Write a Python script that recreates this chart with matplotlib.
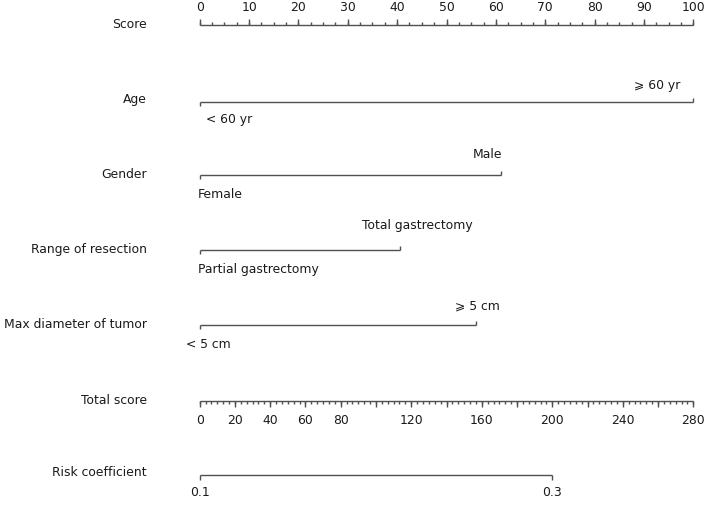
import numpy as np
import matplotlib
matplotlib.use("Agg")
import matplotlib.pyplot as plt

# ---- data ----
row_labels = ["Score", "Age", "Gender", "Range of resection",
              "Max diameter of tumor", "Total score", "Risk coefficient"]
score_major = [0, 10, 20, 30, 40, 50, 60, 70, 80, 90, 100]
score_minor_step = 2.5

age_levels = ["< 60 yr", "\u2a7e 60 yr"]
age_points = [0, 100]
gender_levels = ["Female", "Male"]
gender_points = [0, 61]
resection_levels = ["Partial gastrectomy", "Total gastrectomy"]
resection_points = [0, 40.5]
tumor_levels = ["< 5 cm", "\u2a7e 5 cm"]
tumor_points = [0, 56]

total_max = 280
total_labels = [0, 20, 40, 60, 80, 120, 160, 200, 240, 280]
total_major_step = 20
total_minor_step = 20 / 6

risk_values = [0.1, 0.3]
risk_total_points = [0, 200]

# ---- layout / style ----
W, H = 708, 505
fig = plt.figure(figsize=(W / 100, H / 100), dpi=100)
ax = fig.add_axes([0, 0, 1, 1])
px0, pxs = 199.7, 4.936          # pixel of score 0, px per score unit
ax.set_xlim(-px0 / pxs, (W - px0) / pxs)
ax.set_ylim(H, 0)
ax.axis("off")

LC = "#505050"
TC = "#1a1a1a"
FS = 8.9
LW = 1.0
fam = ["DejaVu Sans"]

row_y = [25, 101.5, 174.5, 249.5, 325, 400.5, 475]
label_y = [25, 100, 175, 249, 324, 400, 473]

for lab, y in zip(row_labels, label_y):
    ax.text(-(px0 - 147) / pxs, y, lab, ha="right", va="center",
            fontsize=FS, color=TC, family=fam)

# Score axis (ticks upward)
y = row_y[0]
ax.plot([0, 100], [y, y], color=LC, lw=LW, solid_capstyle="butt")
minor = np.arange(0, 100 + 1e-9, score_minor_step)
ax.vlines(minor, y - 3, y, color=LC, lw=LW)
ax.vlines(score_major, y - 6.5, y, color=LC, lw=LW)
for v in score_major:
    ax.text(v, 7.5, f"{v}", ha="center", va="center", fontsize=FS,
            color=TC, family=fam)

# Variable rows
variables = [
    (age_levels, age_points, row_y[1], [(92.6, 85), (6.0, 120)]),
    (gender_levels, gender_points, row_y[2], [(58.3, 155), (4.2, 195)]),
    (resection_levels, resection_points, row_y[3], [(44.1, 226), (11.8, 270)]),
    (tumor_levels, tumor_points, row_y[4], [(56.2, 306), (1.8, 344)]),
]
for levels, pts, y, pos in variables:
    ax.plot([pts[0], pts[1]], [y, y], color=LC, lw=LW, solid_capstyle="butt")
    ax.vlines([pts[0]], y, y + 4, color=LC, lw=LW)
    ax.vlines([pts[1]], y - 4, y, color=LC, lw=LW)
    (hx, hy), (lx, ly) = pos
    ax.text(hx, hy, levels[1], ha="center", va="center", fontsize=FS,
            color=TC, family=fam)
    ax.text(lx, ly, levels[0], ha="center", va="center", fontsize=FS,
            color=TC, family=fam)

# Total score axis (ticks downward)
def tot2score(t):
    return np.asarray(t, dtype=float) * 100.0 / total_max

y = row_y[5]
ax.plot([0, 100], [y, y], color=LC, lw=LW, solid_capstyle="butt")
tminor = np.arange(0, total_max + 1e-6, total_minor_step)
tmajor = np.arange(0, total_max + 1e-6, total_major_step)
ax.vlines(tot2score(tminor), y, y + 3.3, color=LC, lw=LW)
ax.vlines(tot2score(tmajor), y, y + 6, color=LC, lw=LW)
for v in total_labels:
    ax.text(float(tot2score(v)), 421, f"{v}", ha="center", va="center",
            fontsize=FS, color=TC, family=fam)

# Risk coefficient
y = row_y[6]
rx = tot2score(risk_total_points)
ax.plot(rx, [y, y], color=LC, lw=LW, solid_capstyle="butt")
ax.vlines(rx, y, y + 5, color=LC, lw=LW)
for v, xx in zip(risk_values, rx):
    ax.text(float(xx), 492, f"{v:.1f}", ha="center", va="center",
            fontsize=FS, color=TC, family=fam)

fig.savefig("out.png", dpi=100, facecolor="white")
